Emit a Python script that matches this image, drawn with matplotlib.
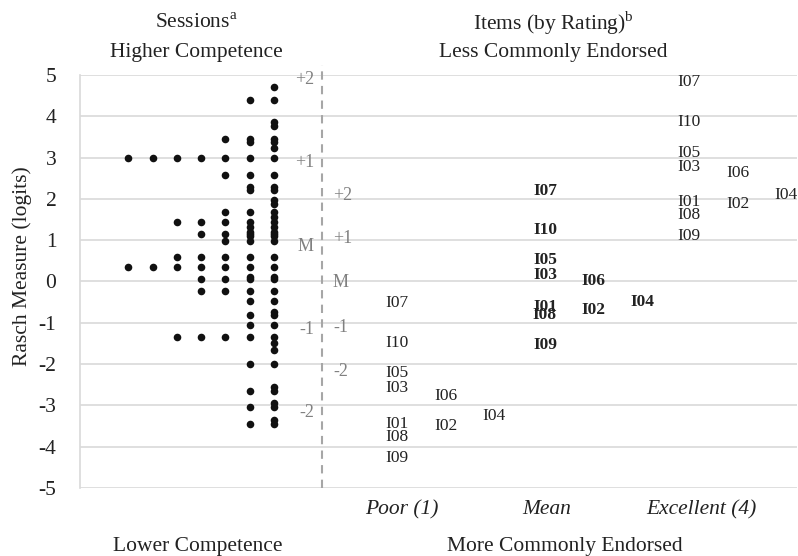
import matplotlib
matplotlib.use("Agg")
import matplotlib.pyplot as plt

plt.rcParams["font.family"] = ["Liberation Serif", "DejaVu Serif"]
plt.rcParams["mathtext.fontset"] = "custom"
plt.rcParams["mathtext.rm"] = "Liberation Serif"
plt.rcParams["axes.unicode_minus"] = False

# sessions: distinct Rasch measures and how many sessions sit at each one
session_measures = [4.70, 4.40, 3.86, 3.76, 3.46, 3.38, 3.24, 2.98, 2.59, 2.29, 2.21,
                    1.97, 1.88, 1.69, 1.57, 1.43, 1.31, 1.21, 1.14, 1.09, 0.97,
                    0.60, 0.34, 0.12, 0.06, -0.22, -0.48, -0.73, -0.82, -1.05,
                    -1.35, -1.49, -1.65, -1.99, -2.55, -2.66, -2.95, -3.05, -3.36, -3.45]
session_counts = [1, 2, 1, 1, 3, 2, 1, 7, 3, 2, 2,
                  1, 1, 3, 1, 5, 2, 2, 4, 2, 3,
                  5, 7, 2, 4, 4, 2, 1, 2, 2,
                  5, 1, 1, 2, 1, 2, 1, 2, 1, 2]

# session distribution markers (M, +/-1 SD, +/-2 SD)
session_stat_labels = ["+2", "+1", "M", "-1", "-2"]
session_stat_values = [4.88, 2.89, 0.84, -1.16, -3.18]
item_stat_labels = ["+2", "+1", "M", "-1", "-2"]
item_stat_values = [2.09, 1.03, -0.03, -1.11, -2.18]

# items by rating
items = ["I01", "I02", "I03", "I04", "I05", "I06", "I07", "I08", "I09", "I10"]
item_subcol = [0, 1, 0, 2, 0, 1, 0, 0, 0, 0]
ratings = ["Poor (1)", "Mean", "Excellent (4)"]
poor = [-3.45, -3.49, -2.59, -3.26, -2.22, -2.77, -0.53, -3.76, -4.28, -1.50]
mean = [-0.61, -0.68, 0.16, -0.49, 0.52, 0.02, 2.20, -0.81, -1.54, 1.25]
excellent = [1.93, 1.88, 2.78, 2.09, 3.10, 2.62, 4.84, 1.61, 1.09, 3.85]
rating_values = [poor, mean, excellent]

W, H = 798, 556
fig = plt.figure(figsize=(W / 100, H / 100), dpi=100)
ax = fig.add_axes([80 / W, 1 - 488 / H, (797 - 80) / W, (488 - 75) / H])
ax.set_xlim(80, 797)
ax.set_ylim(-5, 5)

ax.set_yticks(range(-5, 6))
ax.set_yticklabels([str(v) for v in range(-5, 6)], fontsize=15.5, color="#222222")
ax.tick_params(axis="y", length=0, pad=17)
ax.set_xticks([])
ax.grid(axis="y", color="#d9d9d9", lw=1.2)
ax.set_axisbelow(True)
for s in ["top", "right", "bottom"]:
    ax.spines[s].set_visible(False)
ax.spines["left"].set_color("#d9d9d9")
ax.spines["left"].set_linewidth(1.2)

# session dots, stacked leftwards from the rightmost column
col_right, col_step = 274, 24.3
xs, ys = [], []
for m, n in zip(session_measures, session_counts):
    for k in range(n):
        xs.append(col_right - k * col_step)
        ys.append(m)
ax.scatter(xs, ys, s=30, color="#111111", zorder=3, linewidths=0)

# divider
ax.plot([322, 322], [-5, 5.25], ls=(0, (4, 3)), color="#a6a6a6", lw=1.5, clip_on=False)

for lab, v in zip(session_stat_labels, session_stat_values):
    ax.text(314, v, lab, ha="right", va="center", fontsize=13, color="#808080")
for lab, v in zip(item_stat_labels, item_stat_values):
    ax.text(333, v, lab, ha="left", va="center", fontsize=13, color="#808080")

group_x = [397, 545, 689]
sub_step = 48.5
for g, vals in enumerate(rating_values):
    for it, sc, v in zip(items, item_subcol, vals):
        ax.text(group_x[g] + sc * sub_step, v, it, ha="center", va="center",
                fontsize=12.5, color="#222222",
                fontweight="bold" if ratings[g] == "Mean" else "normal")

label_x = [402, 547, 701]
for lab, x in zip(ratings, label_x):
    fig.text(x / W, 1 - 510 / H, lab, ha="center", va="center",
             fontsize=15.5, style="italic", color="#222222")

fig.text(196 / W, 1 - 23 / H, r"Sessions$^{\mathrm{a}}$", ha="center", va="center",
         fontsize=15.5, color="#222222")
fig.text(196 / W, 1 - 53 / H, "Higher Competence", ha="center", va="center",
         fontsize=15.5, color="#222222")
fig.text(553 / W, 1 - 23 / H, r"Items (by Rating)$^{\mathrm{b}}$", ha="center", va="center",
         fontsize=15.5, color="#222222")
fig.text(553 / W, 1 - 53 / H, "Less Commonly Endorsed", ha="center", va="center",
         fontsize=15.5, color="#222222")
fig.text(198 / W, 1 - 546 / H, "Lower Competence", ha="center", va="center",
         fontsize=15.5, color="#222222")
fig.text(565 / W, 1 - 546 / H, "More Commonly Endorsed", ha="center", va="center",
         fontsize=15.5, color="#222222")
fig.text(22 / W, 1 - 266 / H, "Rasch Measure (logits)", rotation=90, ha="center",
         va="center", fontsize=15.5, color="#222222")

fig.savefig("out.png", dpi=100)
